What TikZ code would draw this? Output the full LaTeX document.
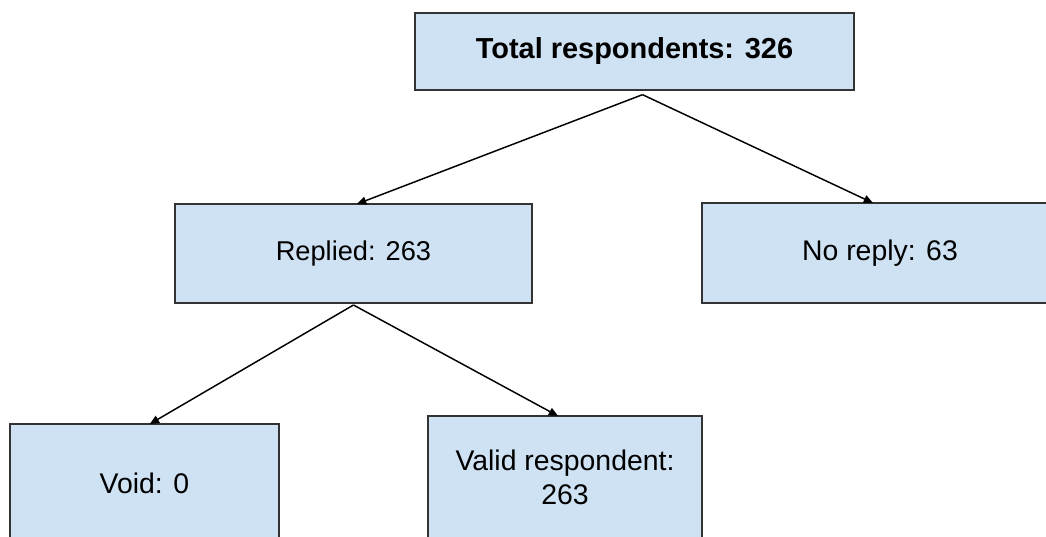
\documentclass[tikz,border=0pt]{standalone}
\usepackage{fontspec}
\setmainfont{Liberation Sans}
\usetikzlibrary{
	positioning,
	arrows.meta
}
\definecolor{boxfill}{HTML}{CFE2F3}
\definecolor{boxline}{HTML}{333333}

\begin{document}
\begin{tikzpicture}[
	x=0.75pt, y=-0.75pt,
	node distance =0mm,
	count/.style = {
		rectangle,
		draw=boxline,
		fill=boxfill,
		line width=1.4pt,
		outer sep=0pt,
		inner sep=0pt,
		align=center,
		font=\fontsize{21.3}{25.5}\selectfont
	},
	link/.style = {
		line width=1.1pt,
		-{Triangle[length=7pt,width=6pt]}
	},
]
	\useasboundingbox (0,0) rectangle (1046,536);

	\node (total) [count, minimum width=329.25pt, minimum height=57.75pt, font=\fontsize{21.7}{25.5}\selectfont\bfseries] at (634.5,51.5) {Total respondents: 326};

	\node (replied) [count, minimum width=267.75pt, minimum height=74.25pt, font=\fontsize{20.4}{25.5}\selectfont, below left=85.5pt and 76.9pt of total.south] {Replied: 263};
	\node (noreply) [count, minimum width=267pt, minimum height=75pt, below right=84.75pt and 50.6pt of total.south] {No reply: 63};

	\draw[link] ([shift={(6pt,-3.5pt)}]total.south) -- ([xshift=2.6pt]replied.north);
	\draw[link] ([shift={(6pt,-3.5pt)}]total.south) -- ([xshift=-5.2pt]noreply.north);

	\node (void) [count, minimum width=201.75pt, minimum height=88.5pt, below left=90.75pt and 55.9pt of replied.south] {Void: 0};
	\node (valid) [count, minimum width=205.5pt, minimum height=91.5pt, below right=84.75pt and 55.9pt of replied.south] {Valid respondent:\\263};

	\draw[link] ([yshift=-1.5pt]replied.south) -- ([xshift=4pt]void.north);
	\draw[link] ([yshift=-1.5pt]replied.south) -- ([xshift=-5.2pt]valid.north);
\end{tikzpicture}
\end{document}
